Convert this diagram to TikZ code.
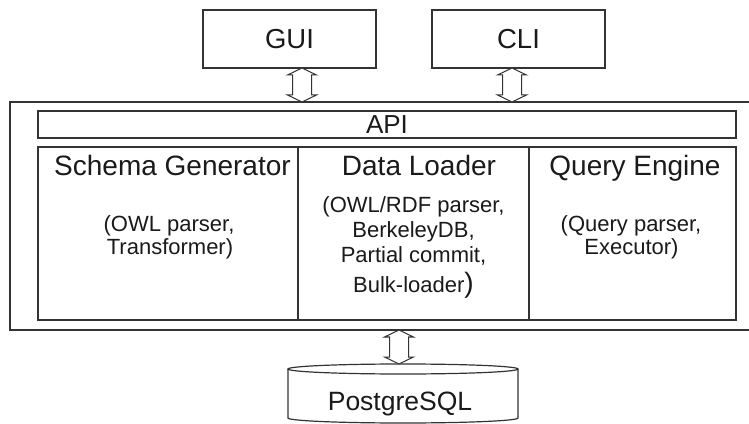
\documentclass[tikz,border=0pt]{standalone}
\usepackage{fontspec}
\setmainfont{Liberation Sans}
\usetikzlibrary{calc}
\definecolor{linec}{HTML}{333333}
\definecolor{txt}{HTML}{1A1A1A}
\newcommand\hollowarr[3]{%
  \draw[arrowline] let \p1=(#2), \p2=(#3) in
    (#1pt,\y1) -- (#1pt+14.5pt,\y1-7pt) -- (#1pt+9.5pt,\y1-7pt) --
    (#1pt+9.5pt,\y2+7pt) -- (#1pt+14.5pt,\y2+7pt) -- (#1pt,\y2) --
    (#1pt-14.5pt,\y2+7pt) -- (#1pt-9.5pt,\y2+7pt) -- (#1pt-9.5pt,\y1-7pt) --
    (#1pt-14.5pt,\y1-7pt) -- cycle;}
\begin{document}
\begin{tikzpicture}[x=1pt,y=1pt,
  box/.style={draw=linec, line width=1.2pt, inner sep=0pt, outer sep=0pt, text=txt},
  arrowline/.style={draw=linec, line width=1pt, fill=white, line join=miter},
  title/.style={anchor=base, font=\fontsize{28}{28}\selectfont, text=txt},
  sub/.style={anchor=base, font=\fontsize{22}{22}\selectfont, text=txt}]
\clip (0,0) rectangle (749,423);
\fill[white] (0,0) rectangle (749,423);

% top boxes
\node[box, minimum width=173pt, minimum height=58pt, font=\fontsize{27.5}{27.5}\selectfont] (gui) at (289.5,384) {GUI};
\node[box, minimum width=173pt, minimum height=58pt, font=\fontsize{27.5}{27.5}\selectfont] (cli) at (518.5,384) {CLI};

% system frame
\node[box, minimum width=760pt, minimum height=228pt] (sys) at (390,207) {};
\node[box, minimum width=698pt, minimum height=27pt, font=\fontsize{26}{26}\selectfont] (api) at (387,298.5) {API};

% columns
\node[box, minimum width=260pt, minimum height=173pt] (schema) at (168,189.5) {};
\node[box, minimum width=231pt, minimum height=173pt] (data) at (413.5,189.5) {};
\node[box, minimum width=207pt, minimum height=173pt] (query) at (632.5,189.5) {};

\node[title] (t1) at (172.5,247) {Schema Generator};
\node[title] (t2) at (419,247) {Data Loader};
\node[title] (t3) at (635,247) {Query Engine};

\node[sub] (s1) at (169,191) {(OWL parser,};
\node[sub] (s2) at (170,168) {Transformer)};

\node[sub] (d1) at (413.5,210) {(OWL/RDF parser,};
\node[sub] (d2) at (413.5,185) {BerkeleyDB,};
\node[sub] (d3) at (413.5,160) {Partial commit,};
\node[sub] (d4) at (413.5,130) {Bulk-loader{\fontsize{28}{28}\selectfont)}};

\node[sub] (q1) at (631,191) {(Query parser,};
\node[sub] (q2) at (631.5,168) {Executor)};

% database cylinder
\coordinate (dbtop) at (403,59);
\draw[draw=linec, line width=1.2pt, fill=white] (288,54) -- (288,5)
  arc[start angle=180, end angle=360, x radius=115, y radius=5] -- (518,54);
\draw[draw=linec, line width=1.2pt] (403,54) ellipse [x radius=115, y radius=5];
\node[anchor=base, font=\fontsize{26.5}{26.5}\selectfont, text=txt] (db) at (400,13) {PostgreSQL};

% connectors
\hollowarr{302}{gui.south}{sys.north}
\hollowarr{512}{cli.south}{sys.north}
\hollowarr{399}{sys.south}{dbtop}
\end{tikzpicture}
\end{document}
